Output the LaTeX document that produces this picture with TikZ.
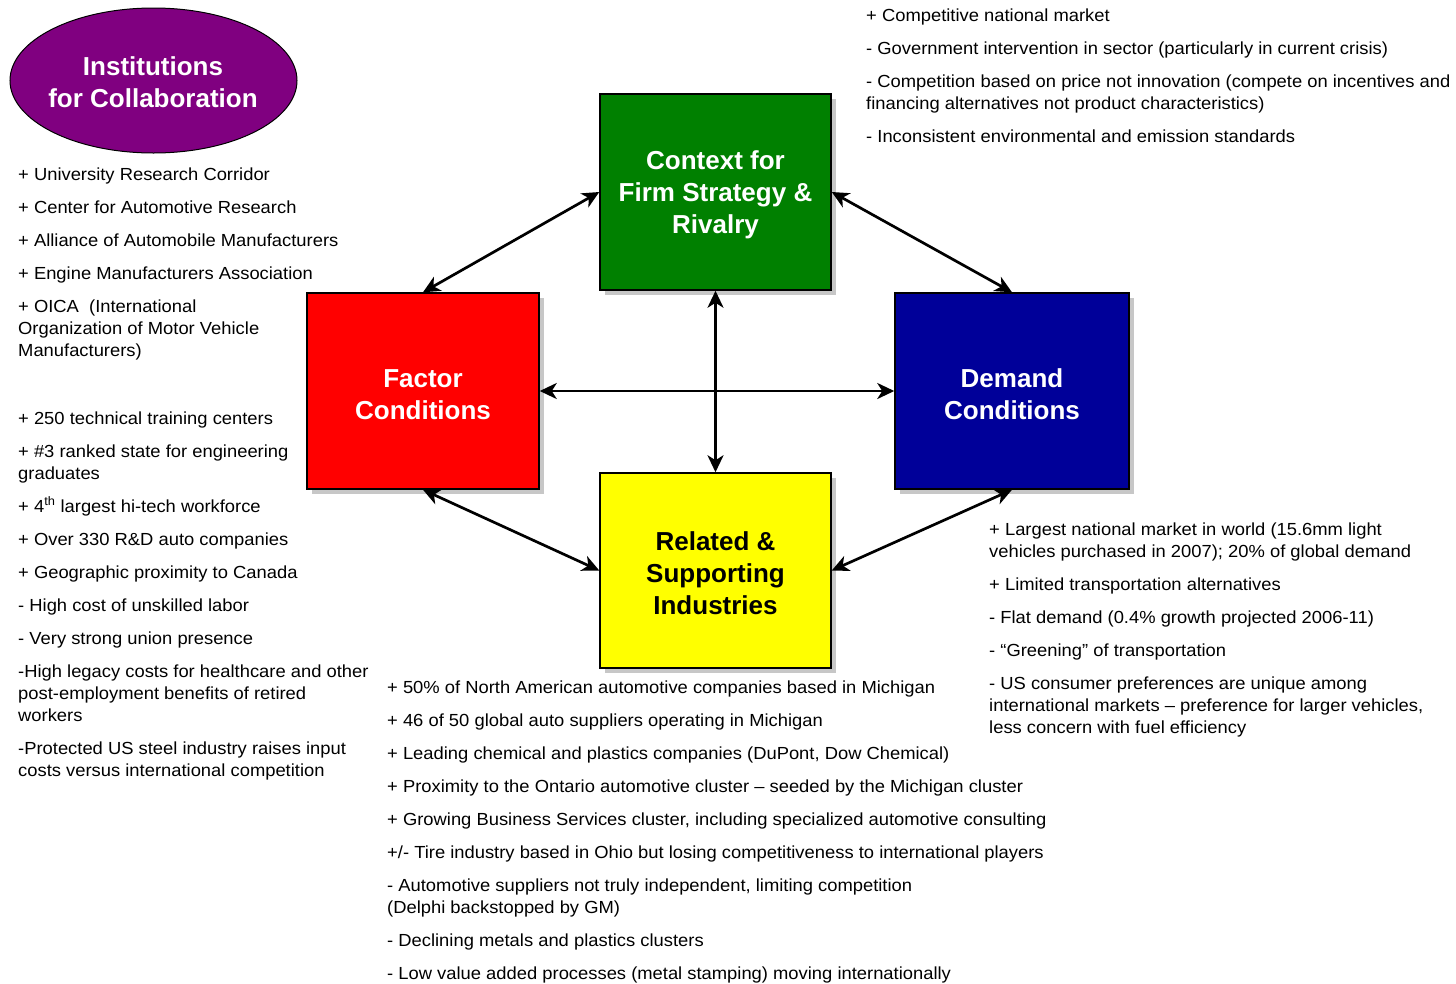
\documentclass[tikz,border=0pt]{standalone}
\usepackage{fontspec}
\setmainfont{Liberation Sans}
\newfontfamily\bodyfont{Liberation Sans}[FakeStretch=1.05]
\usetikzlibrary{arrows.meta,shadows,shapes.geometric}
\definecolor{pgreen}{HTML}{008000}
\definecolor{pred}{HTML}{FF0000}
\definecolor{pblue}{HTML}{000099}
\definecolor{pyellow}{HTML}{FFFF00}
\definecolor{ppurple}{HTML}{800080}
\newcommand{\topstrut}{\rule{0pt}{25pt}}
\begin{document}
\begin{tikzpicture}[x=1pt,y=-1pt,
  box/.style={draw=black,line width=1.5pt,inner sep=0pt,align=center,
    font=\fontsize{26}{32}\selectfont\bfseries,
    drop shadow={shadow xshift=5pt,shadow yshift=-5pt,opacity=1,fill=black!22}},
  txt/.style={anchor=base west,align=left,inner sep=0pt,font=\bodyfont\fontsize{17.5}{22}\selectfont},
  link/.style={{Stealth[length=17pt,width=16pt,inset=5pt]}-{Stealth[length=17pt,width=16pt,inset=5pt]},line width=2.7pt}]
\useasboundingbox (0,0) rectangle (1456,983);

\draw[draw=black,line width=1pt,fill=ppurple] (153.5,80.5) ellipse [x radius=143.5pt,y radius=72.5pt];
\node[text=white,inner sep=0pt,align=center,font=\fontsize{26}{32}\selectfont\bfseries] (inst) at (153,82) {Institutions\\for Collaboration};

\node[box,fill=pgreen,text=white,minimum width=231pt,minimum height=196pt] (ctx) at (715.5,192) {\topstrut Context for\\Firm Strategy \&\\Rivalry};
\node[box,fill=pred,text=white,minimum width=232pt,minimum height=196pt] (fac) at (423,391) {\topstrut Factor\\Conditions};
\node[box,fill=pblue,text=white,minimum width=234pt,minimum height=196pt] (dem) at (1012,391) {\topstrut Demand\\Conditions};
\node[box,fill=pyellow,text=black,minimum width=231pt,minimum height=195pt] (rel) at (715.5,570.5) {\topstrut Related \&\\Supporting\\Industries};

\draw[link] (fac.north) -- (ctx.west);
\draw[link] (ctx.east) -- (dem.north);
\draw[link] (ctx.south) -- (rel.north);
\draw[link] (fac.east) -- (dem.west);
\draw[link] (fac.south) -- (rel.west);
\draw[link] (dem.south) -- (rel.east);

\node[txt] (instlist) at (18,356) {+ University Research Corridor\\[11pt]
+ Center for Automotive Research\\[11pt]
+ Alliance of Automobile Manufacturers\\[11pt]
+ Engine Manufacturers Association\\[11pt]
+ OICA\ \ (International\\
Organization of Motor Vehicle\\
Manufacturers)};

\node[txt] (faclist) at (18,776) {+ 250 technical training centers\\[11pt]
+ \#3 ranked state for engineering\\
graduates\\[11pt]
+ 4\textsuperscript{th} largest hi-tech workforce\\[11pt]
+ Over 330 R\&D auto companies\\[11pt]
+ Geographic proximity to Canada\\[11pt]
- High cost of unskilled labor\\[11pt]
- Very strong union presence\\[11pt]
-High legacy costs for healthcare and other\\
post-employment benefits of retired\\
workers\\[11pt]
-Protected US steel industry raises input\\
costs versus international competition};

\node[txt] (ctxlist) at (866,142) {+ Competitive national market\\[11pt]
- Government intervention in sector (particularly in current crisis)\\[11pt]
- Competition based on price not innovation (compete on incentives and\\
financing alternatives not product characteristics)\\[11pt]
- Inconsistent environmental and emission standards};

\node[txt] (demlist) at (989,733) {+ Largest national market in world (15.6mm light\\
vehicles purchased in 2007); 20\% of global demand\\[11pt]
+ Limited transportation alternatives\\[11pt]
- Flat demand (0.4\% growth projected 2006-11)\\[11pt]
- “Greening” of transportation\\[11pt]
- US consumer preferences are unique among\\
international markets – preference for larger vehicles,\\
less concern with fuel efficiency};

\node[txt] (rellist) at (387,979) {+ 50\% of North American automotive companies based in Michigan\\[11pt]
+ 46 of 50 global auto suppliers operating in Michigan\\[11pt]
+ Leading chemical and plastics companies (DuPont, Dow Chemical)\\[11pt]
+ Proximity to the Ontario automotive cluster – seeded by the Michigan cluster\\[11pt]
+ Growing Business Services cluster, including specialized automotive consulting\\[11pt]
+/- Tire industry based in Ohio but losing competitiveness to international players\\[11pt]
- Automotive suppliers not truly independent, limiting competition\\
(Delphi backstopped by GM)\\[11pt]
- Declining metals and plastics clusters\\[11pt]
- Low value added processes (metal stamping) moving internationally};
\end{tikzpicture}
\end{document}
